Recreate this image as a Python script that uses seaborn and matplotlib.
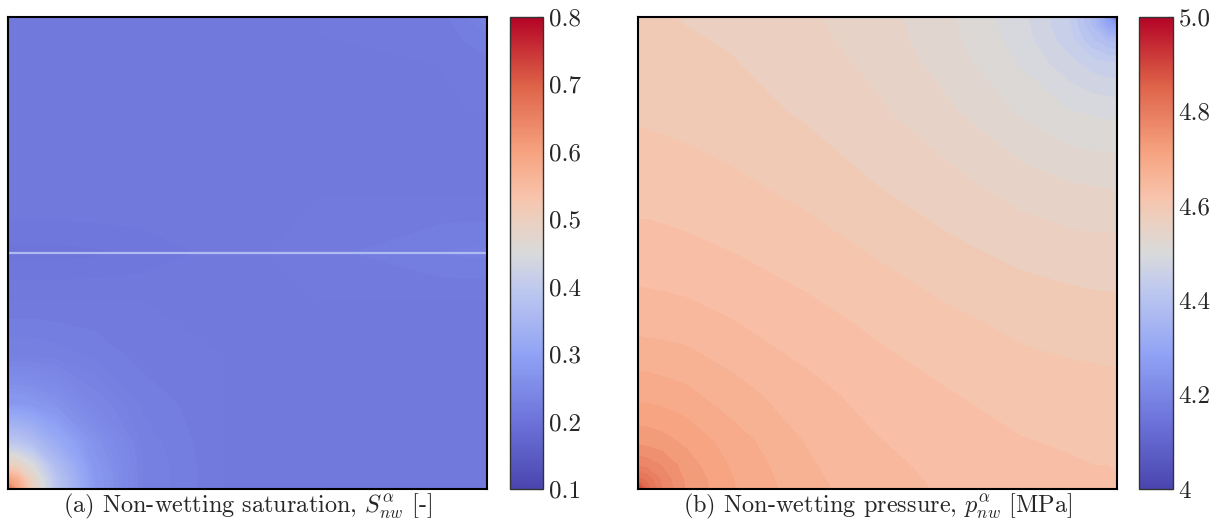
import matplotlib
matplotlib.use("Agg")
import matplotlib.pyplot as plt
import matplotlib.colors as mcolors
import seaborn as sns
import numpy as np

# grid node positions (fraction of the domain) and field values
sat_x = [0, 0.02, 0.05, 0.1, 0.18, 0.28, 0.45, 0.65, 0.9, 0.96, 1.0]
sat_y = [0, 0.02, 0.05, 0.1, 0.18, 0.28, 0.4, 0.5, 0.62, 0.8, 0.9, 0.96, 1.0]
sat_vals = [
    [0.68, 0.60, 0.50, 0.39, 0.28, 0.23, 0.215, 0.215, 0.215, 0.215, 0.215],
    [0.60, 0.57, 0.49, 0.385, 0.28, 0.23, 0.215, 0.215, 0.215, 0.215, 0.215],
    [0.50, 0.49, 0.45, 0.365, 0.275, 0.23, 0.215, 0.215, 0.215, 0.215, 0.215],
    [0.39, 0.385, 0.365, 0.32, 0.265, 0.228, 0.215, 0.215, 0.215, 0.215, 0.215],
    [0.28, 0.28, 0.275, 0.265, 0.24, 0.224, 0.215, 0.215, 0.215, 0.215, 0.215],
    [0.23, 0.23, 0.23, 0.228, 0.224, 0.218, 0.215, 0.215, 0.215, 0.215, 0.215],
    [0.215, 0.215, 0.215, 0.215, 0.215, 0.215, 0.215, 0.215, 0.215, 0.215, 0.215],
    [0.203, 0.203, 0.203, 0.203, 0.204, 0.206, 0.212, 0.218, 0.225, 0.226, 0.226],
    [0.215, 0.215, 0.215, 0.215, 0.215, 0.215, 0.215, 0.215, 0.215, 0.215, 0.215],
    [0.215, 0.215, 0.215, 0.215, 0.215, 0.215, 0.215, 0.215, 0.215, 0.215, 0.215],
    [0.215, 0.215, 0.215, 0.215, 0.215, 0.215, 0.215, 0.215, 0.215, 0.217, 0.218],
    [0.215, 0.215, 0.215, 0.215, 0.215, 0.215, 0.215, 0.215, 0.217, 0.221, 0.225],
    [0.215, 0.215, 0.215, 0.215, 0.215, 0.215, 0.215, 0.215, 0.218, 0.225, 0.235],
]

pres_x = [0, 0.02, 0.05, 0.1, 0.2, 0.35, 0.5, 0.65, 0.8, 0.9, 0.95, 0.98, 1.0]
pres_y = [0, 0.02, 0.05, 0.1, 0.2, 0.35, 0.5, 0.65, 0.8, 0.9, 0.95, 0.98, 1.0]
pres_vals = [
    [4.930, 4.829, 4.779, 4.738, 4.701, 4.667, 4.648, 4.637, 4.629, 4.626, 4.624, 4.624, 4.623],
    [4.829, 4.814, 4.775, 4.736, 4.700, 4.665, 4.647, 4.636, 4.627, 4.624, 4.623, 4.622, 4.621],
    [4.777, 4.773, 4.759, 4.730, 4.696, 4.663, 4.645, 4.634, 4.625, 4.622, 4.620, 4.620, 4.619],
    [4.734, 4.732, 4.728, 4.716, 4.689, 4.659, 4.641, 4.630, 4.621, 4.618, 4.616, 4.615, 4.615],
    [4.693, 4.693, 4.690, 4.685, 4.668, 4.647, 4.632, 4.621, 4.612, 4.609, 4.608, 4.607, 4.607],
    [4.653, 4.652, 4.651, 4.649, 4.641, 4.628, 4.616, 4.605, 4.595, 4.591, 4.590, 4.589, 4.589],
    [4.628, 4.628, 4.627, 4.625, 4.620, 4.610, 4.598, 4.585, 4.575, 4.571, 4.569, 4.569, 4.569],
    [4.611, 4.611, 4.610, 4.608, 4.603, 4.593, 4.579, 4.566, 4.549, 4.540, 4.538, 4.537, 4.537],
    [4.597, 4.596, 4.595, 4.593, 4.588, 4.577, 4.563, 4.543, 4.517, 4.501, 4.497, 4.495, 4.495],
    [4.590, 4.589, 4.588, 4.586, 4.581, 4.569, 4.555, 4.531, 4.498, 4.467, 4.451, 4.446, 4.445],
    [4.586, 4.586, 4.584, 4.582, 4.578, 4.566, 4.551, 4.526, 4.491, 4.449, 4.402, 4.378, 4.373],
    [4.584, 4.584, 4.582, 4.580, 4.576, 4.564, 4.550, 4.524, 4.488, 4.443, 4.377, 4.299, 4.271],
    [4.583, 4.582, 4.581, 4.579, 4.575, 4.563, 4.549, 4.523, 4.487, 4.441, 4.371, 4.270, 4.090],
]

# fracture along the middle of the domain
frac_y = 0.5
frac_sat = 0.36

sat_ticks = [0.1, 0.2, 0.3, 0.4, 0.5, 0.6, 0.7, 0.8]
pres_ticks = [4.0, 4.2, 4.4, 4.6, 4.8, 5.0]
pres_ticklabels = ["4", "4.2", "4.4", "4.6", "4.8", "5.0"]

sns.set_style("white")
plt.rcParams["font.family"] = ["cmr10", "DejaVu Serif"]
plt.rcParams["mathtext.fontset"] = "cm"
plt.rcParams["axes.formatter.use_mathtext"] = True

# cool-to-warm map, tuned to the colour bar of the picture (slightly violet blue end)
anchor_pos = [0.0, 0.143, 0.286, 0.429, 0.5, 0.571, 0.62, 0.714, 0.857, 1.0]
anchor_rgb = ["#4b46af", "#6c73da", "#91a3f5", "#c0caee", "#dadada",
              "#eccfbf", "#f8c3ab", "#f6a380", "#de6248", "#b40426"]
cmap = mcolors.LinearSegmentedColormap.from_list(
    "ctw", list(zip(anchor_pos, sns.color_palette(anchor_rgb))))

fig = plt.figure(figsize=(12.26, 5.23), dpi=100)
ax1 = fig.add_axes([0.0065, 0.065, 0.3907, 0.9025])
cax1 = fig.add_axes([0.416, 0.065, 0.027, 0.9025])
ax2 = fig.add_axes([0.5204, 0.065, 0.3907, 0.9025])
cax2 = fig.add_axes([0.929, 0.065, 0.0277, 0.9025])

norm1 = mcolors.Normalize(0.1, 0.8)
ax1.contourf(sat_x, sat_y, np.array(sat_vals), levels=np.linspace(0.1, 0.8, 141),
             cmap=cmap, norm=norm1)
ax1.axhline(frac_y, color=cmap(norm1(frac_sat)), lw=1.6)

norm2 = mcolors.Normalize(4.0, 5.0)
ax2.contourf(pres_x, pres_y, np.array(pres_vals), levels=np.linspace(4.0, 5.0, 51),
             cmap=cmap, norm=norm2)

labels = [r"(a) Non-wetting saturation, $S^{\alpha}_{nw}$ [-]",
          r"(b) Non-wetting pressure, $p^{\alpha}_{nw}$ [MPa]"]
for ax, lab in zip([ax1, ax2], labels):
    ax.set_xlim(0, 1)
    ax.set_ylim(0, 1)
    ax.set_xticks([])
    ax.set_yticks([])
    for sp in ax.spines.values():
        sp.set_visible(True)
        sp.set_color("black")
        sp.set_linewidth(1.5)
    ax.set_xlabel(lab, fontsize=17.5, labelpad=2)

cb1 = fig.colorbar(plt.cm.ScalarMappable(norm=norm1, cmap=cmap), cax=cax1)
cb1.set_ticks(sat_ticks)
cb1.set_ticklabels([f"{t:.1f}" for t in sat_ticks])
cb2 = fig.colorbar(plt.cm.ScalarMappable(norm=norm2, cmap=cmap), cax=cax2)
cb2.set_ticks(pres_ticks)
cb2.set_ticklabels(pres_ticklabels)
for cb in [cb1, cb2]:
    cb.outline.set_linewidth(1.0)
    cb.outline.set_edgecolor("#333333")
    cb.ax.tick_params(labelsize=18, length=4, width=0.8, direction="in", pad=4,
                      color="#333333")

fig.savefig("out.png", dpi=100)
